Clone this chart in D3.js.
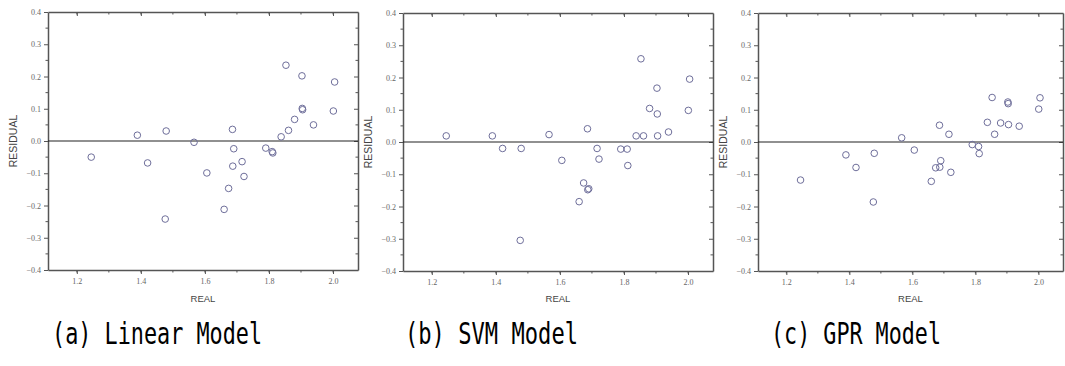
<!DOCTYPE html>
<html><head><meta charset="utf-8">
<script src="https://cdn.jsdelivr.net/npm/d3@7/dist/d3.min.js"></script>
<style>body{margin:0;background:#fff}</style>
</head><body>
<script>
const real = [1.245,1.389,1.421,1.479,1.476,1.566,1.606,1.686,1.690,1.687,1.674,1.660,1.716,1.722,1.790,1.810,1.812,1.838,1.861,1.853,1.880,1.903,1.904,1.905,1.939,2.001,2.005];
const linearRes = [-0.050,0.018,-0.068,0.031,-0.242,-0.004,-0.099,0.036,-0.024,-0.078,-0.147,-0.212,-0.064,-0.110,-0.022,-0.033,-0.037,0.013,0.033,0.235,0.067,0.202,0.101,0.097,0.050,0.093,0.183];
const svmRes = [0.019,0.019,-0.020,-0.020,-0.305,0.023,-0.057,0.041,-0.145,-0.148,-0.127,-0.185,-0.020,-0.053,-0.022,-0.022,-0.073,0.019,0.019,0.258,0.104,0.167,0.087,0.019,0.031,0.098,0.195];
const gprRes = [-0.118,-0.040,-0.079,-0.035,-0.186,0.013,-0.025,0.052,-0.058,-0.078,-0.080,-0.122,0.024,-0.094,-0.008,-0.014,-0.036,0.061,0.024,0.138,0.059,0.124,0.119,0.054,0.049,0.102,0.137];
const xTicks = [1.2,1.4,1.6,1.8,2.0];
const yTicks = [-0.4,-0.3,-0.2,-0.1,0.0,0.1,0.2,0.3,0.4];
const captions = ["(a) Linear Model","(b) SVM Model","(c) GPR Model"];
const xDomain = [1.11, 2.078];
const yDomain = [-0.4, 0.4];

const panels = [
  {res: linearRes, l:48, r:358, t:12, b:270, cap:captions[0], cx:52, cw:210},
  {res: svmRes, l:403, r:713, t:13, b:271, cap:captions[1], cx:405, cw:173},
  {res: gprRes, l:758, r:1063, t:13, b:271, cap:captions[2], cx:771, cw:170}
];

const svg = d3.select("body").append("svg").attr("width",1065).attr("height",366);
const axisCol = "#555";

panels.forEach(p => {
  const x = d3.scaleLinear().domain(xDomain).range([p.l,p.r]);
  const y = d3.scaleLinear().domain(yDomain).range([p.b,p.t]);
  const g = svg.append("g");
  const xMinor = d3.range(1.2, 2.1, 0.1).filter(v => v < xDomain[1]);
  const yMinor = d3.range(-0.35, 0.4, 0.1);

  const styleText = a => a.selectAll("text").attr("font-family","Liberation Serif")
    .attr("font-size",8).attr("fill","#666").attr("stroke","none");

  // bottom axis
  g.append("g").attr("transform",`translate(0,${p.b})`)
    .call(d3.axisBottom(x).tickValues(xTicks).tickFormat(d3.format(".1f")).tickSize(4).tickSizeOuter(0))
    .call(a=>a.selectAll("line").attr("stroke",axisCol))
    .call(a=>a.select(".domain").attr("stroke",axisCol).attr("stroke-width",1.5))
    .call(styleText)
    .call(a=>a.selectAll("text").attr("dy","0.9em"));
  g.append("g").selectAll("line").data(xMinor).join("line")
    .attr("x1",d=>x(d)).attr("x2",d=>x(d)).attr("y1",p.b).attr("y2",p.b+2.5).attr("stroke",axisCol);
  // top axis
  g.append("g").attr("transform",`translate(0,${p.t})`)
    .call(d3.axisTop(x).tickValues(xTicks).tickFormat("").tickSize(-4).tickSizeOuter(0))
    .call(a=>a.selectAll("line").attr("stroke",axisCol))
    .call(a=>a.select(".domain").attr("stroke",axisCol).attr("stroke-width",1.5));
  g.append("g").selectAll("line").data(xMinor).join("line")
    .attr("x1",d=>x(d)).attr("x2",d=>x(d)).attr("y1",p.t).attr("y2",p.t+2.5).attr("stroke",axisCol);
  // left axis
  g.append("g").attr("transform",`translate(${p.l},0)`)
    .call(d3.axisLeft(y).tickValues(yTicks).tickFormat(d3.format(".1f")).tickSize(4).tickSizeOuter(0))
    .call(a=>a.selectAll("line").attr("stroke",axisCol))
    .call(a=>a.select(".domain").attr("stroke",axisCol).attr("stroke-width",1.5))
    .call(styleText);
  g.append("g").selectAll("line").data(yMinor).join("line")
    .attr("x1",p.l-2.5).attr("x2",p.l).attr("y1",d=>y(d)).attr("y2",d=>y(d)).attr("stroke",axisCol);
  // right axis
  g.append("g").attr("transform",`translate(${p.r},0)`)
    .call(d3.axisRight(y).tickValues(yTicks).tickFormat("").tickSize(-4).tickSizeOuter(0))
    .call(a=>a.selectAll("line").attr("stroke",axisCol))
    .call(a=>a.select(".domain").attr("stroke",axisCol).attr("stroke-width",1.5));
  g.append("g").selectAll("line").data(yMinor).join("line")
    .attr("x1",p.r-2.5).attr("x2",p.r).attr("y1",d=>y(d)).attr("y2",d=>y(d)).attr("stroke",axisCol);

  // zero line
  g.append("line").attr("x1",p.l).attr("x2",p.r).attr("y1",y(0)).attr("y2",y(0))
    .attr("stroke","#222").attr("stroke-width",1.2);

  // points
  g.append("g").selectAll("circle").data(real.map((v,i)=>[v,p.res[i]])).join("circle")
    .attr("cx",d=>x(d[0])).attr("cy",d=>y(d[1])).attr("r",3.3)
    .attr("fill","none").attr("stroke","#6e6e9a").attr("stroke-width",1);

  // axis titles
  g.append("text").attr("x",(p.l+p.r)/2).attr("y",302).attr("text-anchor","middle")
    .attr("font-family","Liberation Sans").attr("font-size",9.5).attr("fill","#444").text("REAL");
  g.append("text").attr("transform",`translate(${p.l-31},${(p.t+p.b)/2}) rotate(-90)`)
    .attr("text-anchor","middle").attr("font-family","Liberation Sans").attr("font-size",10.5)
    .attr("fill","#444").text("RESIDUAL");

  // caption
  svg.append("text").attr("x",p.cx).attr("y",344).attr("font-family","DejaVu Sans Mono")
    .attr("font-size",30).attr("fill","#000")
    .attr("textLength",p.cw).attr("lengthAdjust","spacingAndGlyphs").text(p.cap);
});
</script>
</body></html>
